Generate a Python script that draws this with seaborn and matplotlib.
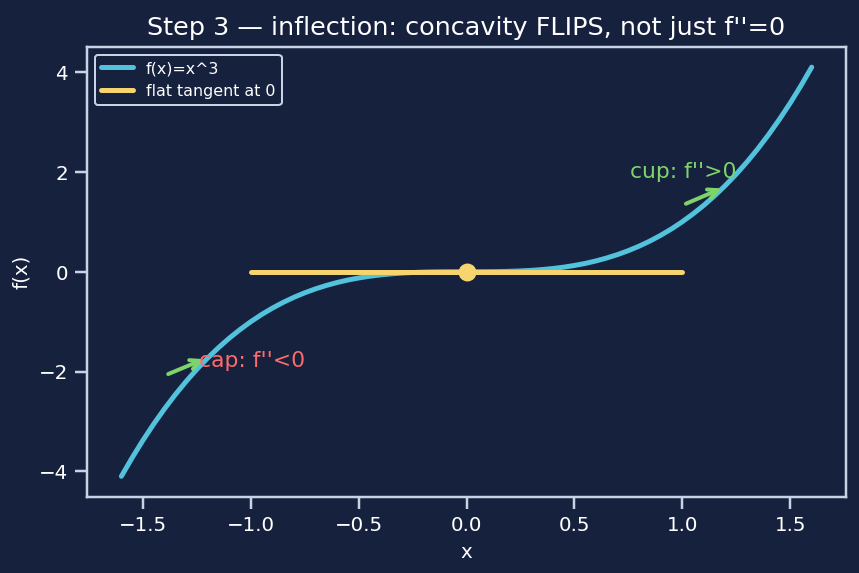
import numpy as np
import pandas as pd
import matplotlib
matplotlib.use("Agg")
import matplotlib.pyplot as plt
import seaborn as sns

# curve samples of f(x) = x^3 (step 0.05)
x_vals = [-1.6, -1.55, -1.5, -1.45, -1.4, -1.35, -1.3, -1.25, -1.2, -1.15,
          -1.1, -1.05, -1.0, -0.95, -0.9, -0.85, -0.8, -0.75, -0.7, -0.65,
          -0.6, -0.55, -0.5, -0.45, -0.4, -0.35, -0.3, -0.25, -0.2, -0.15,
          -0.1, -0.05, 0.0, 0.05, 0.1, 0.15, 0.2, 0.25, 0.3, 0.35, 0.4,
          0.45, 0.5, 0.55, 0.6, 0.65, 0.7, 0.75, 0.8, 0.85, 0.9, 0.95,
          1.0, 1.05, 1.1, 1.15, 1.2, 1.25, 1.3, 1.35, 1.4, 1.45, 1.5,
          1.55, 1.6]
y_vals = [-4.096, -3.724, -3.375, -3.049, -2.744, -2.460, -2.197, -1.953,
          -1.728, -1.521, -1.331, -1.158, -1.0, -0.857, -0.729, -0.614,
          -0.512, -0.422, -0.343, -0.275, -0.216, -0.166, -0.125, -0.091,
          -0.064, -0.043, -0.027, -0.016, -0.008, -0.003, -0.001, 0.0,
          0.0, 0.0, 0.001, 0.003, 0.008, 0.016, 0.027, 0.043, 0.064,
          0.091, 0.125, 0.166, 0.216, 0.275, 0.343, 0.422, 0.512, 0.614,
          0.729, 0.857, 1.0, 1.158, 1.331, 1.521, 1.728, 1.953, 2.197,
          2.460, 2.744, 3.049, 3.375, 3.724, 4.096]

# flat tangent at the inflection point
tangent_x = [-1.0, 1.0]
tangent_y = [0.0, 0.0]
point_x = [0.0]
point_y = [0.0]

labels = ["f(x)=x^3", "flat tangent at 0"]
title = "Step 3 \u2014 inflection: concavity FLIPS, not just f''=0"

bg = "#16213e"
fg = "#c9d3e6"
c_curve = "#53c2dc"
c_tan = "#f7d56e"
c_green = "#7fd36b"
c_red = "#ff6b6b"

sns.set_theme(style="ticks", rc={
    "figure.facecolor": bg, "axes.facecolor": bg, "axes.edgecolor": fg,
    "axes.labelcolor": "white", "xtick.color": fg, "ytick.color": fg,
    "text.color": "white", "axes.grid": False,
    "xtick.labelsize": 10, "ytick.labelsize": 10, "axes.labelsize": 10,
})
plt.rcParams["font.family"] = ["DejaVu Sans"]
plt.rcParams["xtick.labelcolor"] = "white"
plt.rcParams["ytick.labelcolor"] = "white"

curve = pd.DataFrame({"x": x_vals, "y": y_vals})
tangent = pd.DataFrame({"x": tangent_x, "y": tangent_y})

fig, ax = plt.subplots(figsize=(6, 4), dpi=143.33)
sns.lineplot(data=curve, x="x", y="y", ax=ax, color=c_curve, lw=2.5,
             sort=False, estimator=None, label=labels[0])
sns.lineplot(data=tangent, x="x", y="y", ax=ax, color=c_tan, lw=2.5,
             sort=False, estimator=None, label=labels[1])
ax.plot(point_x, point_y, "o", color=c_tan, ms=8, zorder=5)

# concavity notes
ax.annotate("", xy=(1.2, 1.7), xytext=(1.0, 1.33),
            arrowprops=dict(arrowstyle="->", color=c_green, lw=2))
ax.text(0.76, 2.0, "cup: f''>0", color=c_green, fontsize=11, va="center")
ax.annotate("", xy=(-1.2, -1.72), xytext=(-1.4, -2.08),
            arrowprops=dict(arrowstyle="->", color=c_green, lw=2))
ax.text(-1.24, -1.78, "cap: f''<0", color=c_red, fontsize=11, va="center")

for s in ax.spines.values():
    s.set_visible(True)
    s.set_color(fg)

ax.set_xlabel("x")
ax.set_ylabel("f(x)")
ax.set_title(title, fontsize=12.8, color="white")
ax.set_yticks([-4, -2, 0, 2, 4])
leg = ax.legend(loc="upper left", fontsize=8, facecolor=bg, edgecolor=fg,
                framealpha=1)
for t in leg.get_texts():
    t.set_color("white")

fig.subplots_adjust(left=0.101, right=0.984, top=0.918, bottom=0.133)
fig.savefig("out.png", dpi=143.33, facecolor=bg)
